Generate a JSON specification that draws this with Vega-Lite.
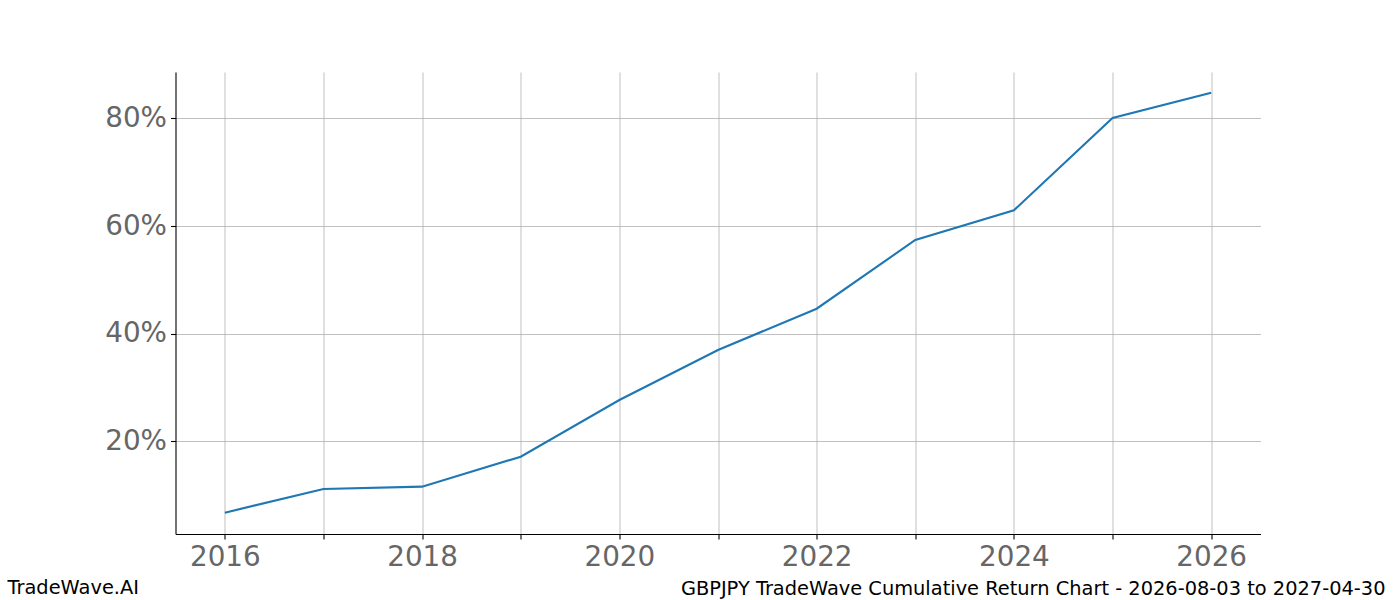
{
  "$schema": "https://vega.github.io/schema/vega-lite/v6.json",
  "autosize": "none",
  "width": 1085,
  "height": 462,
  "padding": {"left": 175.5, "top": 72, "right": 139.5, "bottom": 66},
  "background": "white",
  "title": {
    "text": "GBPJPY TradeWave Cumulative Return Chart - 2026-08-03 to 2027-04-30",
    "orient": "bottom",
    "anchor": "end",
    "frame": "group",
    "font": "DejaVu Sans",
    "fontSize": 19.4,
    "fontWeight": "normal",
    "color": "black",
    "baseline": "alphabetic",
    "dx": 125,
    "offset": -2
  },
  "data": {
    "values": [
      {"year": 2016, "ret": 0.0676},
      {"year": 2017, "ret": 0.1116},
      {"year": 2018, "ret": 0.1159},
      {"year": 2019, "ret": 0.1716},
      {"year": 2020, "ret": 0.2769},
      {"year": 2021, "ret": 0.3697},
      {"year": 2022, "ret": 0.4464},
      {"year": 2023, "ret": 0.5740},
      {"year": 2024, "ret": 0.6292},
      {"year": 2025, "ret": 0.8006},
      {"year": 2026, "ret": 0.8475}
    ]
  },
  "config": {
    "view": {"stroke": null},
    "axis": {
      "labelFont": "DejaVu Sans",
      "labelFontSize": 27.8,
      "labelColor": "#666666",
      "domainColor": "black",
      "domainWidth": 1.1,
      "tickColor": "black",
      "tickWidth": 1.1,
      "tickSize": 5,
      "gridColor": "#b0b0b0",
      "gridWidth": 0.8,
      "titleFont": "DejaVu Sans",
      "titleFontWeight": "normal",
      "titleColor": "black",
      "titleFontSize": 19.4
    }
  },
  "mark": {"type": "line", "color": "#1f77b4", "strokeWidth": 2.1, "clip": true},
  "encoding": {
    "x": {
      "field": "year",
      "type": "quantitative",
      "scale": {"domain": [2015.5, 2026.5], "nice": false, "zero": false},
      "axis": {
        "values": [2016, 2017, 2018, 2019, 2020, 2021, 2022, 2023, 2024, 2025, 2026],
        "format": "d",
        "labelExpr": "datum.value % 2 == 0 ? datum.label : ''",
        "labelPadding": 4,
        "labelFlush": false,
        "labelOverlap": false,
        "title": "TradeWave.AI",
        "titleAnchor": "start",
        "titleAlign": "left",
        "titleBaseline": "alphabetic",
        "titleX": -168.5,
        "titleY": 59.5
      }
    },
    "y": {
      "field": "ret",
      "type": "quantitative",
      "scale": {"domain": [0.028, 0.886], "nice": false, "zero": false},
      "axis": {
        "values": [0.2, 0.4, 0.6, 0.8],
        "format": ".0%",
        "labelPadding": 4,
        "title": null
      }
    }
  }
}
